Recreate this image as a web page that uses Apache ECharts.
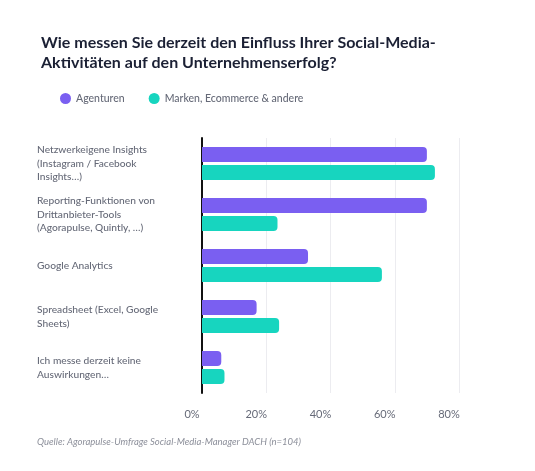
<!DOCTYPE html>
<html>
<head>
<meta charset="utf-8">
<script src="https://cdn.jsdelivr.net/npm/echarts@6/dist/echarts.min.js"></script>
<style>
  html, body { margin: 0; padding: 0; background: #fff; }
  #chart { width: 535px; height: 471px; }
</style>
</head>
<body>
<div id="chart"></div>
<script>
// Kategorien (von oben nach unten)
var kategorien = [
  'Netzwerkeigene Insights\n(Instagram / Facebook\nInsights…)',
  'Reporting-Funktionen von\nDrittanbieter-Tools\n(Agorapulse, Quintly, …)',
  'Google Analytics',
  'Spreadsheet (Excel, Google\nSheets)',
  'Ich messe derzeit keine\nAuswirkungen…'
];
// Werte in %
var agenturen = [70, 70, 33, 17, 6];
var marken = [72.5, 23.5, 56, 24, 7];
var xTicks = [0, 20, 40, 60, 80];

var grau = '#666a78';
var chart = echarts.init(document.getElementById('chart'));

var option = {
  backgroundColor: '#ffffff',
  textStyle: { fontFamily: 'Lato' },
  title: {
    text: 'Wie messen Sie derzeit den Einfluss Ihrer Social-Media-\nAktivitäten auf den Unternehmenserfolg?',
    left: 36,
    top: 28,
    textStyle: {
      fontFamily: 'Lato',
      fontSize: 16,
      fontWeight: 'bold',
      color: '#1b2034',
      lineHeight: 20
    }
  },
  legend: {
    data: ['Agenturen', 'Marken, Ecommerce & andere'],
    left: 55,
    top: 88,
    icon: 'circle',
    itemWidth: 11,
    itemHeight: 11,
    itemGap: 24,
    textStyle: { color: grau, fontSize: 10.5, fontWeight: 500, fontFamily: 'Lato' }
  },
  grid: {
    left: 202,
    right: 76,
    top: 138,
    bottom: 78,
    containLabel: false
  },
  xAxis: {
    type: 'value',
    min: 0,
    max: 80,
    interval: 20,
    axisLine: { show: false },
    axisTick: { show: false },
    splitLine: { lineStyle: { color: '#ececf0', width: 1 } },
    axisLabel: {
      color: grau,
      fontSize: 11,
      margin: 16,
      padding: [0, 20, 0, 0],
      formatter: function (v) {
        return xTicks.indexOf(v) >= 0 ? v + '%' : '';
      }
    }
  },
  yAxis: {
    type: 'category',
    inverse: true,
    data: kategorien,
    axisLine: { show: true, lineStyle: { color: '#111111', width: 2 } },
    axisTick: { show: false },
    axisLabel: {
      align: 'left',
      margin: 165,
      color: grau,
      fontSize: 10.2,
      fontWeight: 500,
      lineHeight: 13.5
    }
  },
  series: [
    {
      name: 'Agenturen',
      type: 'bar',
      data: agenturen,
      barWidth: 15,
      barGap: '20%',
      itemStyle: { color: '#7a5ff1', borderRadius: [0, 4, 4, 0] },
      z: 1
    },
    {
      name: 'Marken, Ecommerce & andere',
      type: 'bar',
      data: marken,
      barWidth: 15,
      barGap: '20%',
      itemStyle: { color: '#17d5bf', borderRadius: [0, 4, 4, 0] },
      z: 1
    }
  ],
  graphic: [
    {
      type: 'text',
      left: 37,
      top: 437,
      style: {
        text: 'Quelle: Agorapulse-Umfrage Social-Media-Manager DACH (n=104)',
        fill: '#8c8f9a',
        font: 'italic 9.5px Lato'
      }
    }
  ]
};

chart.setOption(option);
</script>
</body>
</html>
